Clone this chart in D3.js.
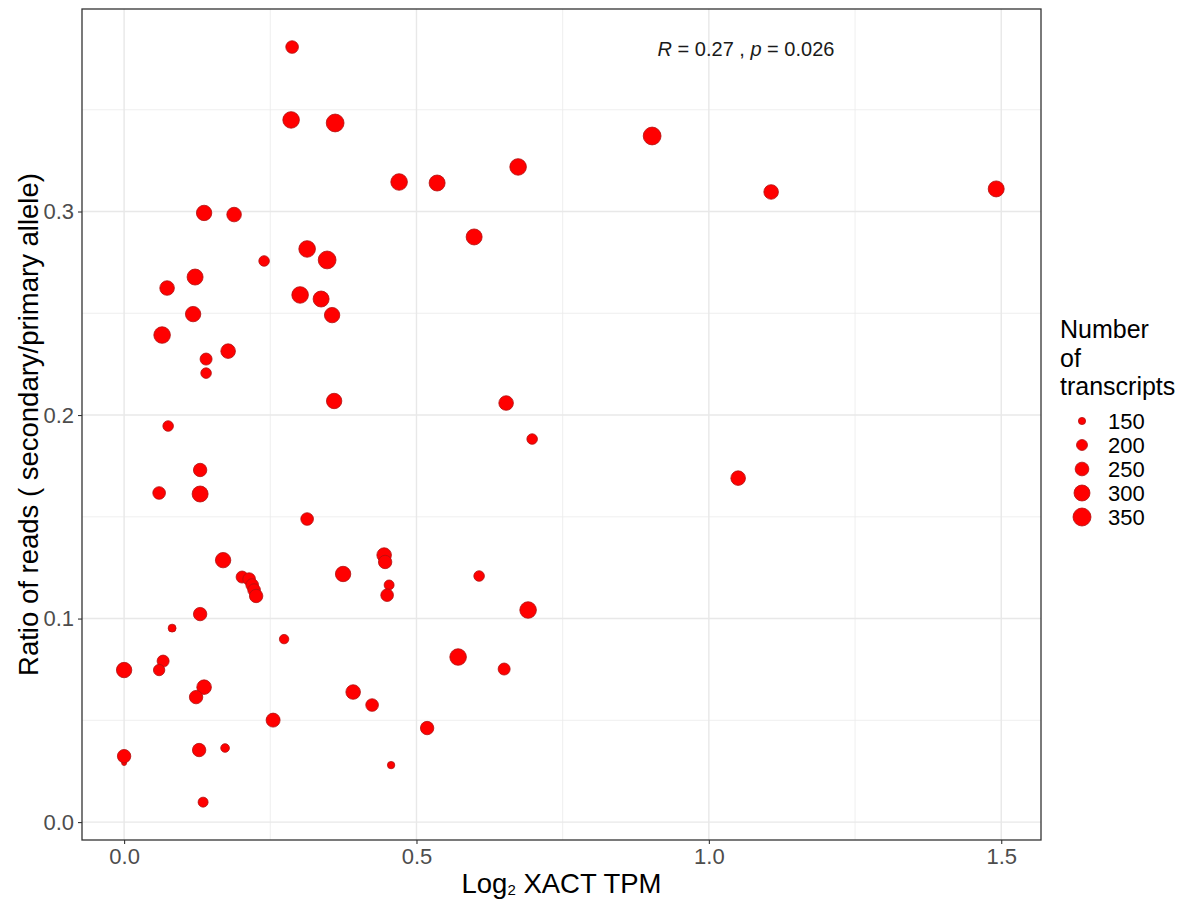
<!DOCTYPE html>
<html>
<head>
<meta charset="utf-8">
<script src="https://cdn.jsdelivr.net/npm/d3@7"></script>
<style>
  html, body { margin: 0; padding: 0; background: #fff; }
  svg { display: block; font-family: "Liberation Sans", Arial, Helvetica, sans-serif; }
</style>
</head>
<body>
<svg id="chart" width="1197" height="901"></svg>
<script>
// ---- data ----
const xactTPM = [0.2873,0.2856,0.3609,0.4703,0.5353,0.6738,0.9030,1.1065,1.4914,1.0501,
  0.1368,0.1881,0.3130,0.3472,0.2394,0.1214,0.0735,0.3010,0.3369,0.1180,
  0.3557,0.0650,0.1779,0.1402,0.1402,0.3592,0.6533,0.0753,0.6978,0.1300,
  0.0599,0.1300,0.3130,0.1693,0.2018,0.2138,0.2190,0.2223,0.2258,0.3745,
  0.4447,0.4464,0.4532,0.4498,0.6071,0.6909,0.1300,0.0821,0.2736,0.5712,
  0.0667,0.0000,0.0599,0.6499,0.1368,0.1231,0.3917,0.4241,0.2548,0.5182,
  0.0000,0.0000,0.1283,0.1727,0.4566,0.1351,0.5986];
const readRatio = [0.3808,0.3450,0.3435,0.3145,0.3140,0.3219,0.3371,0.3096,0.3111,0.1690,
  0.2993,0.2985,0.2816,0.2762,0.2757,0.2678,0.2624,0.2590,0.2570,0.2496,
  0.2491,0.2393,0.2314,0.2275,0.2206,0.2069,0.2059,0.1946,0.1882,0.1730,
  0.1617,0.1612,0.1489,0.1287,0.1204,0.1194,0.1165,0.1140,0.1111,0.1219,
  0.1312,0.1278,0.1165,0.1115,0.1209,0.1042,0.1022,0.0953,0.0899,0.0811,
  0.0791,0.0747,0.0747,0.0752,0.0663,0.0614,0.0639,0.0575,0.0501,0.0462,
  0.0290,0.0324,0.0354,0.0364,0.0280,0.0098,0.2875];
const nTranscripts = [229,314,345,314,300,314,345,268,300,268,
  286,268,314,345,194,300,268,314,300,286,
  286,314,268,218,194,286,268,194,194,244,
  229,300,229,286,218,229,229,229,244,286,
  268,244,185,229,194,314,244,158,177,314,
  218,286,207,218,268,244,268,229,256,244,
  130,244,244,167,152,185,300];

const xTicks = [0.0, 0.5, 1.0, 1.5];
const xMinor = [0.25, 0.75, 1.25];
const yTicks = [0.0, 0.1, 0.2, 0.3];
const yMinor = [0.05, 0.15, 0.25, 0.35];
const legendValues = [150, 200, 250, 300, 350];
const legendTitle = ["Number", "of", "transcripts"];
const statLabel = { r: "0.27", p: "0.026" };

// ---- layout ----
const svg = d3.select("#chart");
const panel = { left: 82, right: 1041, top: 9, bottom: 840 };
const titleSize = 27.5, textSize = 22, legendTitleSize = 25;

const x = d3.scaleLinear().domain([-0.072, 1.568]).range([panel.left, panel.right]);
const y = d3.scaleLinear().domain([-0.0088, 0.3995]).range([panel.bottom, panel.top]);
const r = d3.scaleRadial().domain([150, 350]).range([3.6, 9]);

const g = svg.append("g");

// grid
g.append("g").selectAll("line").data(xMinor).join("line")
  .attr("x1", d => x(d)).attr("x2", d => x(d))
  .attr("y1", panel.top).attr("y2", panel.bottom)
  .attr("stroke", "#ebebeb").attr("stroke-width", 0.8);
g.append("g").selectAll("line").data(yMinor).join("line")
  .attr("y1", d => y(d)).attr("y2", d => y(d))
  .attr("x1", panel.left).attr("x2", panel.right)
  .attr("stroke", "#ebebeb").attr("stroke-width", 0.8);
g.append("g").selectAll("line").data(xTicks).join("line")
  .attr("x1", d => x(d)).attr("x2", d => x(d))
  .attr("y1", panel.top).attr("y2", panel.bottom)
  .attr("stroke", "#e8e8e8").attr("stroke-width", 1.4);
g.append("g").selectAll("line").data(yTicks).join("line")
  .attr("y1", d => y(d)).attr("y2", d => y(d))
  .attr("x1", panel.left).attr("x2", panel.right)
  .attr("stroke", "#e8e8e8").attr("stroke-width", 1.4);

// points
const pts = xactTPM.map((v, i) => ({ x: v, y: readRatio[i], n: nTranscripts[i] }));
g.append("g").selectAll("circle").data(pts).join("circle")
  .attr("cx", d => x(d.x)).attr("cy", d => y(d.y)).attr("r", d => r(d.n))
  .attr("fill", "#ff0000").attr("stroke", "#b01010").attr("stroke-width", 0.8);

// panel border
g.append("rect")
  .attr("x", panel.left).attr("y", panel.top)
  .attr("width", panel.right - panel.left).attr("height", panel.bottom - panel.top)
  .attr("fill", "none").attr("stroke", "#333333").attr("stroke-width", 1.3);

// axes
const xAxis = d3.axisBottom(x).tickValues(xTicks).tickFormat(d3.format(".1f")).tickSize(4).tickPadding(4);
const yAxis = d3.axisLeft(y).tickValues(yTicks).tickFormat(d3.format(".1f")).tickSize(4).tickPadding(4);

const gx = svg.append("g").attr("transform", `translate(0,${panel.bottom})`).call(xAxis);
const gy = svg.append("g").attr("transform", `translate(${panel.left},0)`).call(yAxis);
[gx, gy].forEach(a => {
  a.select(".domain").remove();
  a.selectAll(".tick line").attr("stroke", "#333333").attr("stroke-width", 1.1);
  a.selectAll(".tick text").attr("fill", "#4d4d4d").style("font-size", textSize + "px")
    .style("font-family", "'Liberation Sans', Arial, sans-serif");
});

// axis titles
const xt = svg.append("text").attr("x", (panel.left + panel.right) / 2).attr("y", 893)
  .attr("text-anchor", "middle").style("font-size", titleSize + "px").attr("fill", "#000");
xt.append("tspan").text("Log");
xt.append("tspan").text("2").style("font-size", "15px").attr("dy", 2);
xt.append("tspan").text(" XACT TPM").attr("dy", -2);

svg.append("text")
  .attr("transform", `translate(38,${(panel.top + panel.bottom) / 2}) rotate(-90)`)
  .attr("text-anchor", "middle").style("font-size", titleSize + "px").attr("fill", "#000")
  .text("Ratio of reads ( secondary/primary allele)");

// stat annotation
const st = svg.append("text").attr("x", 746).attr("y", 56).attr("text-anchor", "middle")
  .style("font-size", "20px").attr("fill", "#1a1a1a");
st.append("tspan").text("R").style("font-style", "italic");
st.append("tspan").text(" = " + statLabel.r + " , ");
st.append("tspan").text("p").style("font-style", "italic");
st.append("tspan").text(" = " + statLabel.p);

// legend
const lg = svg.append("g");
lg.selectAll("text.title").data(legendTitle).join("text")
  .attr("x", 1060).attr("y", (d, i) => 338 + i * 28.5)
  .style("font-size", legendTitleSize + "px").attr("fill", "#000").text(d => d);
const items = lg.selectAll("g.item").data(legendValues).join("g")
  .attr("transform", (d, i) => `translate(0,${421 + i * 24})`);
items.append("circle").attr("cx", 1082).attr("cy", 0).attr("r", d => r(d))
  .attr("fill", "#ff0000").attr("stroke", "#b01010").attr("stroke-width", 0.8);
items.append("text").attr("x", 1108).attr("y", 0).attr("dy", "0.36em")
  .style("font-size", textSize + "px").attr("fill", "#000").text(d => d);
</script>
</body>
</html>
